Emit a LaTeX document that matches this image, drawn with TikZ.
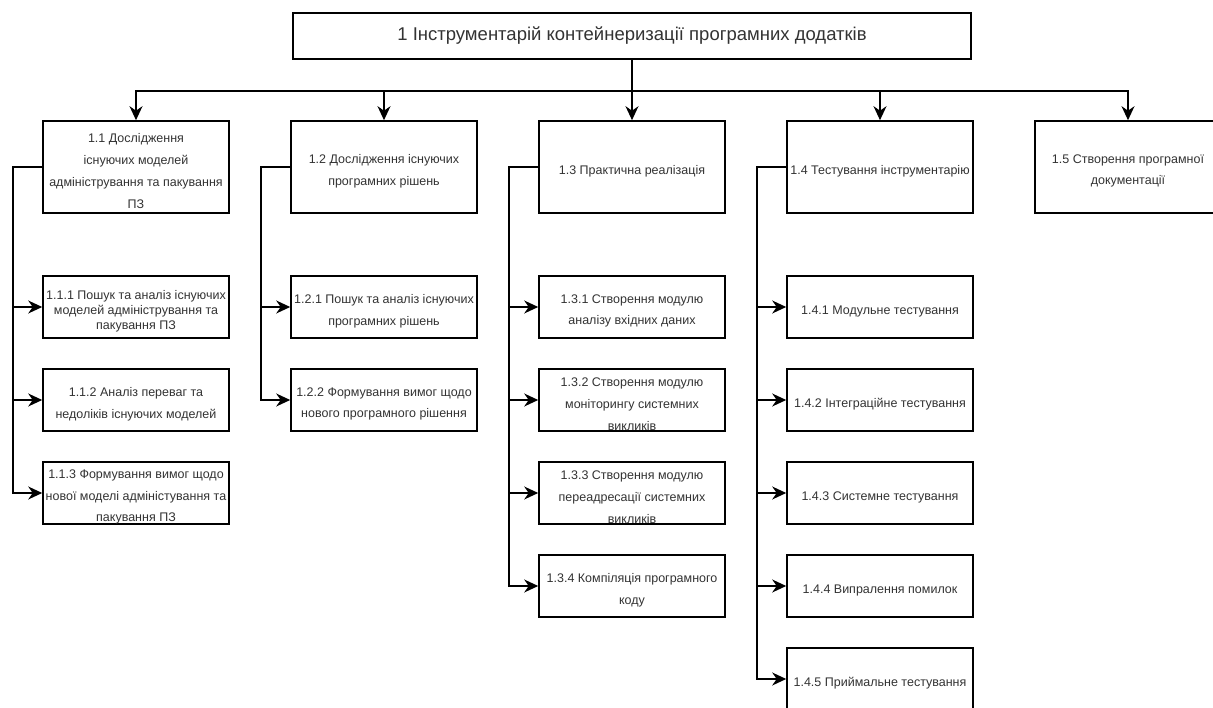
\documentclass[tikz,border=0pt]{standalone}
\usepackage{fontspec}
\setmainfont{Liberation Sans}
\usetikzlibrary{arrows.meta}
\definecolor{ink}{HTML}{333333}
\begin{document}
\begin{tikzpicture}[x=1pt,y=-1pt,
  box/.style={draw=black, line width=1.6pt, fill=white, inner sep=0pt,
    minimum width=186pt},
  head/.style={box, minimum height=92pt},
  leaf/.style={box, minimum height=62pt},
  % caption set a little below the centre of its box
  lbl/.style={text=ink, align=center, inner sep=0pt, yshift=-4pt,
    font=\fontsize{12.5}{21.8}\selectfont},
  tight/.style={lbl, font=\fontsize{12.5}{15}\selectfont},
  title/.style={box, text=ink, minimum width=678pt, minimum height=46pt,
    font=\fontsize{18.5}{22}\selectfont},
  link/.style={draw=black, line width=1.5pt,
    -{Stealth[length=14pt,width=13pt,inset=4.5pt]}},
]
\useasboundingbox (0,0) rectangle (1213,708);
\fill[white] (0,0) rectangle (1213,708);
\clip (0,0) rectangle (1213,708);

% root
\node[title] (top) at (632,36) {1 Інструментарій контейнеризації програмних додатків};

% second level
\node[head, label={[lbl, name=l11t]center:{1.1 Дослідження\\існуючих моделей\\адміністрування та пакування\\ПЗ}}] (l11) at (136,167) {};
\node[head, label={[lbl, name=l12t]center:{1.2 Дослідження існуючих\\програмних рішень}}] (l12) at (384,167) {};
\node[head, label={[lbl, name=l13t]center:{1.3 Практична реалізація}}] (l13) at (632,167) {};
\node[head, label={[lbl, name=l14t]center:{1.4 Тестування інструментарію}}] (l14) at (880,167) {};
\node[head, label={[lbl, name=l15t]center:{1.5 Створення програмної\\документації}}] (l15) at (1128,167) {};

% 1.1 branch
\node[leaf, label={[tight, name=c111t]center:{1.1.1 Пошук та аналіз існуючих\\моделей адміністрування та\\пакування ПЗ}}] (c111) at (136,307) {};
\node[leaf, label={[lbl, name=c112t]center:{1.1.2 Аналіз переваг та\\недоліків існуючих моделей}}] (c112) at (136,400) {};
\node[leaf, label={[lbl, name=c113t]center:{1.1.3 Формування вимог щодо\\нової моделі адміністування та\\пакування ПЗ}}] (c113) at (136,493) {};

% 1.2 branch
\node[leaf, label={[lbl, name=c121t]center:{1.2.1 Пошук та аналіз існуючих\\програмних рішень}}] (c121) at (384,307) {};
\node[leaf, label={[lbl, name=c122t]center:{1.2.2 Формування вимог щодо\\нового програмного рішення}}] (c122) at (384,400) {};

% 1.3 branch
\node[leaf, label={[lbl, name=c131t]center:{1.3.1 Створення модулю\\аналізу вхідних даних}}] (c131) at (632,307) {};
\node[leaf, label={[lbl, name=c132t]center:{1.3.2 Створення модулю\\моніторингу системних\\викликів}}] (c132) at (632,400) {};
\node[leaf, label={[lbl, name=c133t]center:{1.3.3 Створення модулю\\переадресації системних\\викликів}}] (c133) at (632,493) {};
\node[leaf, label={[lbl, name=c134t]center:{1.3.4 Компіляція програмного\\коду}}] (c134) at (632,586) {};

% 1.4 branch
\node[leaf, label={[lbl, name=c141t]center:{1.4.1 Модульне тестування}}] (c141) at (880,307) {};
\node[leaf, label={[lbl, name=c142t]center:{1.4.2 Інтеграційне тестування}}] (c142) at (880,400) {};
\node[leaf, label={[lbl, name=c143t]center:{1.4.3 Системне тестування}}] (c143) at (880,493) {};
\node[leaf, label={[lbl, name=c144t]center:{1.4.4 Випралення помилок}}] (c144) at (880,586) {};
\node[leaf, label={[lbl, name=c145t]center:{1.4.5 Приймальне тестування}}] (c145) at (880,679) {};

% root to second level
\draw[link] (top.south) -- (l13.north);
\foreach \n in {l11,l12,l14,l15}
  \draw[link] (top.south) -- ++(0,31) -| (\n.north);

% second level to leaves
\foreach \p/\c in {l11/c111,l11/c112,l11/c113,l12/c121,l12/c122,
                   l13/c131,l13/c132,l13/c133,l13/c134,
                   l14/c141,l14/c142,l14/c143,l14/c144,l14/c145}
  \draw[link] (\p.west) -- ++(-29,0) |- (\c.west);
\end{tikzpicture}
\end{document}
